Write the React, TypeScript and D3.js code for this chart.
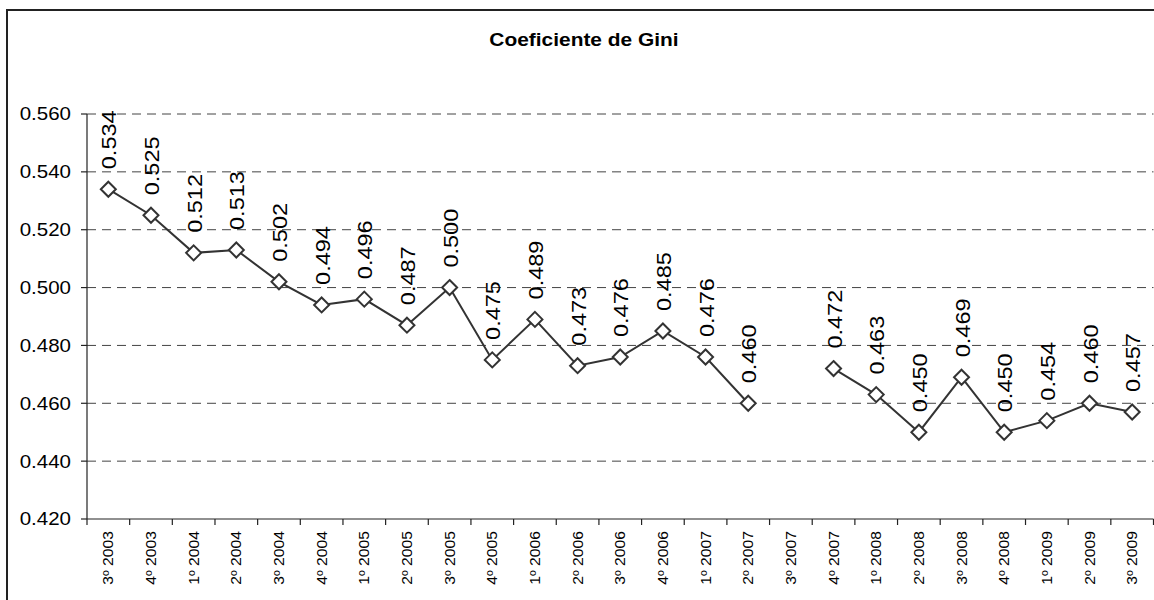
import React from "react";
import * as d3 from "d3";

const categories: string[] = [
  "3º 2003", "4º 2003", "1º 2004", "2º 2004", "3º 2004", "4º 2004",
  "1º 2005", "2º 2005", "3º 2005", "4º 2005", "1º 2006", "2º 2006",
  "3º 2006", "4º 2006", "1º 2007", "2º 2007", "3º 2007", "4º 2007",
  "1º 2008", "2º 2008", "3º 2008", "4º 2008", "1º 2009", "2º 2009", "3º 2009",
];
const giniValues: (number | null)[] = [
  0.534, 0.525, 0.512, 0.513, 0.502, 0.494,
  0.496, 0.487, 0.5, 0.475, 0.489, 0.473,
  0.476, 0.485, 0.476, 0.46, null, 0.472,
  0.463, 0.45, 0.469, 0.45, 0.454, 0.46, 0.457,
];
const yTicks: number[] = [0.42, 0.44, 0.46, 0.48, 0.5, 0.52, 0.54, 0.56];
const title = "Coeficiente de Gini";

const W = 1154;
const H = 600;
const FONT = '"Liberation Sans", Arial, Helvetica, sans-serif';

export default function App() {
  const left = 87;
  const right = 1153.5;
  const top = 114;
  const bottom = 519;

  const x = d3.scaleBand<string>().domain(categories).range([left, right]);
  const y = d3.scaleLinear().domain([0.42, 0.56]).range([bottom, top]);
  const cx = (i: number) => (x(categories[i]) as number) + x.bandwidth() / 2;

  const pts = giniValues.map((v, i) => ({ v, i }));
  const line = d3
    .line<{ v: number | null; i: number }>()
    .defined((d) => d.v != null)
    .x((d) => cx(d.i))
    .y((d) => y(d.v as number));

  const diamond = (px: number, py: number, r = 7.5) =>
    `M${px},${py - r}L${px + r},${py}L${px},${py + r}L${px - r},${py}Z`;

  const tickEdges = categories.map((c) => x(c) as number).concat([right]);

  return (
    <svg
      width={W}
      height={H}
      style={{ position: "fixed", left: 0, top: 0, background: "#fff" }}
      fontFamily={FONT}
    >
      <rect x={0} y={0} width={W} height={H} fill="#fff" />
      {/* outer frame */}
      <path d={`M7,${H}V10H${W}`} fill="none" stroke="#222" strokeWidth={2} />

      {/* title */}
      <text
        transform={`translate(584,46) scale(1.1,1)`}
        textAnchor="middle"
        fontWeight="bold"
        fontSize={19}
        fill="#000"
      >
        {title}
      </text>

      {/* gridlines */}
      {yTicks.filter((t) => t > 0.42).map((t) => (
        <line
          key={"g" + t}
          x1={left}
          x2={right}
          y1={y(t)}
          y2={y(t)}
          stroke="#444"
          strokeWidth={1}
          strokeDasharray="9,6"
        />
      ))}

      {/* y axis */}
      <line x1={left} x2={left} y1={top} y2={bottom} stroke="#222" strokeWidth={1.2} />
      {yTicks.map((t) => (
        <g key={"y" + t}>
          <line x1={left - 6} x2={left} y1={y(t)} y2={y(t)} stroke="#222" strokeWidth={1.2} />
          <text
            transform={`translate(71,${y(t)}) scale(1.14,1)`}
            textAnchor="end"
            dy="0.36em"
            fontSize={18}
            fill="#000"
          >
            {d3.format(".3f")(t)}
          </text>
        </g>
      ))}

      {/* x axis */}
      <line x1={left} x2={right} y1={bottom} y2={bottom} stroke="#222" strokeWidth={1.2} />
      {tickEdges.map((e, i) => (
        <line key={"xt" + i} x1={e} x2={e} y1={bottom} y2={bottom + 6} stroke="#222" strokeWidth={1.2} />
      ))}
      {categories.map((c, i) => (
        <text
          key={"xl" + c}
          transform={`translate(${cx(i) + 5},531) rotate(-90) scale(1.12,1)`}
          textAnchor="end"
          fontSize={14}
          fill="#000"
        >
          {c}
        </text>
      ))}

      {/* series line */}
      <path d={line(pts) || ""} fill="none" stroke="#333" strokeWidth={2} />

      {/* markers */}
      {pts.map((d) =>
        d.v == null ? null : (
          <path
            key={"m" + d.i}
            d={diamond(cx(d.i), y(d.v))}
            fill="#fff"
            stroke="#333"
            strokeWidth={2}
          />
        )
      )}

      {/* data labels */}
      {pts.map((d) =>
        d.v == null ? null : (
          <text
            key={"l" + d.i}
            transform={`translate(${cx(d.i) + 8},${y(d.v) - 20}) rotate(-90) scale(1.12,1)`}
            textAnchor="start"
            fontSize={21}
            fill="#000"
          >
            {d3.format(".3f")(d.v)}
          </text>
        )
      )}
    </svg>
  );
}
